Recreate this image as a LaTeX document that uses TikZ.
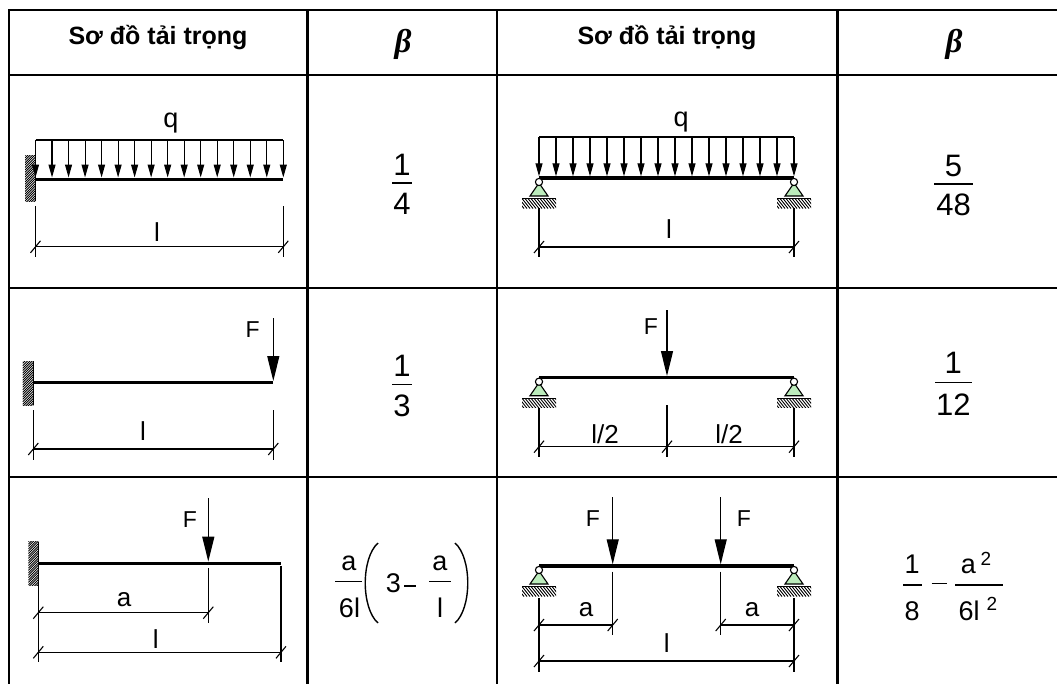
\documentclass[tikz,border=0pt]{standalone}
\usepackage{fontspec}
\setmainfont{Liberation Sans}
\newfontfamily\serifit{Liberation Serif}
\usetikzlibrary{arrows.meta}
\definecolor{sgreen}{RGB}{188,236,188}
\newcommand{\fsz}[1]{\fontsize{#1}{#1}\selectfont}
\newcommand{\mytick}[2]{\draw[thinl] ({#1-5},{#2+6}) -- ({#1+5},{#2-6});}
\newcommand{\mywall}[4]{%
  \begin{scope}
    \clip (#1,#2) rectangle (#3,#4);
    \foreach \k in {0,2.4,...,64} \draw[line width=0.9pt] (#1,{#2+\k}) -- ({#1+25},{#2+\k-25});
  \end{scope}
  \draw[line width=1.3pt] (#3,#2) -- (#3,#4);}
\newcommand{\mysupport}[2]{%
  \filldraw[fill=sgreen, thinl] (#1,{#2+5}) -- ({#1-9},{#2+18}) -- ({#1+9},{#2+18}) -- cycle;
  \filldraw[fill=white, thinl] (#1,{#2+4}) circle (3.6pt);
  \draw[thinl] ({#1-17},{#2+20.5}) -- ({#1+17},{#2+20.5});
  \begin{scope}
    \clip ({#1-17},{#2+20.5}) rectangle ({#1+17},{#2+30});
    \foreach \k in {-21,-18,...,18} \draw[line width=0.9pt] ({#1+\k-2},{#2+20.5}) -- ({#1+\k+6},{#2+30.5});
  \end{scope}}
\tikzset{
  hline/.style={line width=1.7pt},
  vline/.style={line width=2.4pt},
  beam/.style={line width=3.4pt},
  thinl/.style={line width=1.1pt},
  force/.style={line width=1.2pt,-{Triangle[length=25pt,width=12pt]}},
  qarrow/.style={line width=1.1pt,-{Triangle[length=13pt,width=7pt]}},
  lbl/.style={font=\fsz{26}, inner sep=0pt, anchor=base},
  qlbl/.style={font=\fsz{27}, inner sep=0pt, anchor=base},
  flbl/.style={font=\fsz{23}, inner sep=0pt, anchor=base},
  hdr/.style={font=\bfseries\fsz{25}, inner sep=0pt, anchor=base},
  bet/.style={font=\serifit\bfseries\itshape\fsz{33}, inner sep=0pt, anchor=base},
  num/.style={font=\fsz{31}, inner sep=0pt, anchor=base},
  numb/.style={font=\fsz{27}, inner sep=0pt, anchor=base},
  supn/.style={font=\fsz{19}, inner sep=0pt, anchor=base},
  fbar/.style={line width=1.3pt},
}
\begin{document}
\begin{tikzpicture}[x=1pt,y=-1pt]
\useasboundingbox (0,0) rectangle (1057,683);
% ---------- table ----------
\begin{scope}
  \clip (0,0) rectangle (1057,683);
  \draw[line width=2.2pt] (9,10) -- (1090,10);
  \draw[hline] (9,75) -- (1090,75);
  \draw[line width=2pt] (9,288) -- (1090,288);
  \draw[hline] (9,477) -- (1090,477);
  \foreach \xx in {9,307.5,497,837.5} \draw[vline] (\xx,9) -- (\xx,700);
\end{scope}
% ---------- headers ----------
\node[hdr] (h1) at (158,44) {Sơ đồ tải trọng};
\node[bet] (b1) at (403,52) {β};
\node[hdr] (h2) at (667,44) {Sơ đồ tải trọng};
\node[bet] (b2) at (954,52) {β};
% ---------- row 1 left ----------
\mywall{25}{155.5}{35.5}{201}
\foreach \i in {0,...,15} \draw[qarrow] ({35.5+\i*16.52},140) -- ({35.5+\i*16.52},177.5);
\draw[thinl] (35.5,140) -- (283.3,140);
\draw[beam] (35.5,179.2) -- (283.3,179.2);
\node[qlbl] (q1) at (171,127) {q};
\draw[thinl] (35.5,206) -- (35.5,257);
\draw[thinl] (283.3,206) -- (283.3,257);
\draw[thinl] (35.5,246.8) -- (283.3,246.8);
\mytick{35.5}{246.8}\mytick{283.3}{246.8}
\node[lbl] (l1) at (157,241.7) {l};
% fraction 1/4
\node[num] (n1) at (402,175) {1};
\draw[fbar] (392,183) -- (412,183);
\node[num] (d1) at (402,214) {4};
% ---------- row 1 right ----------
\foreach \i in {0,...,15} \draw[qarrow] ({539+\i*17},137) -- ({539+\i*17},176.3);
\draw[thinl] (539,137) -- (794,137);
\draw[beam] (539,178) -- (794,178);
\mysupport{539}{178}\mysupport{794}{178}
\node[qlbl] (q2) at (681,126) {q};
\draw[thinl] (539,208) -- (539,257);
\draw[thinl] (794,208) -- (794,257);
\draw[thinl] (539,247) -- (794,247);
\mytick{539}{247}\mytick{794}{247}
\node[lbl] (l2) at (669,238) {l};
% fraction 5/48
\node[num] (n2) at (953.5,176) {5};
\draw[fbar] (934,184) -- (973,184);
\node[num] (d2) at (953.5,215) {48};
% ---------- row 2 left ----------
\mywall{22.7}{361}{33.3}{405}
\draw[beam] (33.3,382.7) -- (273.3,382.7);
\draw[force] (273.3,318) -- (273.3,381);
\node[flbl] (f1) at (252.7,337) {F};
\draw[thinl] (33.3,410) -- (33.3,460);
\draw[thinl] (273.3,410) -- (273.3,460);
\draw[thinl] (33.3,449) -- (273.3,449);
\mytick{33.3}{449}\mytick{273.3}{449}
\node[lbl] (l3) at (143,440) {l};
% fraction 1/3
\node[num] (n3) at (402,376) {1};
\draw[fbar] (392,384.5) -- (412,384.5);
\node[num] (d3) at (402,416.5) {3};
% ---------- row 2 right ----------
\draw[beam] (539,377.7) -- (794,377.7);
\mysupport{539}{377.7}\mysupport{794}{377.7}
\draw[force] (667,310) -- (667,376);
\node[flbl] (f2) at (651,334) {F};
\draw[thinl] (539,408) -- (539,457);
\draw[thinl] (794,408) -- (794,457);
\draw[thinl] (667,405) -- (667,457);
\draw[thinl] (539,446.7) -- (794,446.7);
\mytick{539}{446.7}\mytick{667}{446.7}\mytick{794}{446.7}
\node[font=\fsz{26}, inner sep=0pt, anchor=base] (h21) at (605,443) {l/2};
\node[font=\fsz{26}, inner sep=0pt, anchor=base] (h22) at (729,443) {l/2};
% fraction 1/12
\node[num] (n4) at (953.3,373) {1};
\draw[fbar] (935,382.7) -- (971.5,382.7);
\node[num] (d4) at (953.3,415) {12};
% ---------- row 3 left ----------
\mywall{28.3}{541.7}{38.3}{585}
\draw[beam] (38.3,563.3) -- (281,563.3);
\draw[force] (208.3,498) -- (208.3,561.6);
\node[flbl] (f3) at (190,527) {F};
\draw[thinl] (38.3,565) -- (38.3,661.7);
\draw[thinl] (208.3,568) -- (208.3,622.7);
\draw[thinl] (281,566) -- (281,661.7);
\draw[thinl] (38.3,612.7) -- (208.3,612.7);
\mytick{38.3}{612.7}\mytick{208.3}{612.7}
\draw[thinl] (38.3,652.3) -- (281,652.3);
\mytick{38.3}{652.3}\mytick{281}{652.3}
\node[lbl] (a1) at (124,606.7) {a};
\node[lbl] (l4) at (155.7,648.3) {l};
% formula a/6l (3 - a/l)
\node[numb] (fa1) at (349,570) {a};
\draw[fbar] (335,581.7) -- (361.7,581.7);
\node[numb] (f6l) at (349.5,617) {6l};
\draw[line width=1.4pt] (378,543) .. controls (361,558) and (361,608) .. (378,623);
\node[numb] (f3n) at (393.5,592) {3};
\draw[fbar] (404,586) -- (416,586);
\node[numb] (fa2) at (440,570) {a};
\draw[fbar] (429,581.7) -- (451,581.7);
\node[numb] (fl) at (440,617) {l};
\draw[line width=1.4pt] (455,543) .. controls (472,558) and (472,608) .. (455,623);
% ---------- row 3 right ----------
\draw[beam] (539,566) -- (794,566);
\mysupport{539}{566}\mysupport{794}{566}
\draw[force] (612.7,497) -- (612.7,564.3);
\draw[force] (720.7,497) -- (720.7,564.3);
\node[flbl] (f4) at (593,526) {F};
\node[flbl] (f5) at (744,526) {F};
\draw[thinl] (539,598) -- (539,671.7);
\draw[thinl] (794,598) -- (794,671.7);
\draw[thinl] (612.7,571.7) -- (612.7,635);
\draw[thinl] (720.7,571.7) -- (720.7,635);
\draw[thinl] (539,625) -- (612.7,625);
\draw[thinl] (720.7,625) -- (794,625);
\mytick{539}{625}\mytick{612.7}{625}\mytick{720.7}{625}\mytick{794}{625}
\draw[thinl] (539,661) -- (794,661);
\mytick{539}{661}\mytick{794}{661}
\node[lbl] (a2) at (586,616.7) {a};
\node[lbl] (a3) at (752,616.7) {a};
\node[lbl] (l5) at (666.7,652) {l};
% formula 1/8 - a^2/(6l^2)
\node[numb] (g1) at (912,573) {1};
\draw[fbar] (903,585) -- (921.7,585);
\node[numb] (g8) at (912,620.5) {8};
\draw[fbar] (931.7,583.3) -- (946.7,583.3);
\node[numb] (ga) at (968.3,573) {a};
\node[supn] (gs1) at (986,565) {2};
\draw[fbar] (955,585) -- (1003,585);
\node[numb] (g6l) at (969,620.5) {6l};
\node[supn] (gs2) at (992,610) {2};
\end{tikzpicture}
\end{document}
